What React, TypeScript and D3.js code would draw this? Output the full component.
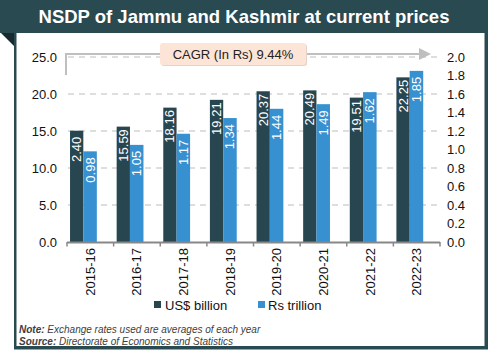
import React from "react";
import * as d3 from "d3";

const years = ["2015-16", "2016-17", "2017-18", "2018-19", "2019-20", "2020-21", "2021-22", "2022-23"];
const usdBillion = [15.04, 15.59, 18.16, 19.21, 20.37, 20.49, 19.51, 22.25];
const usdLabels = ["2.40", "15.59", "18.16", "19.21", "20.37", "20.49", "19.51", "22.25"];
const rsTrillion = [0.98, 1.05, 1.17, 1.34, 1.44, 1.49, 1.62, 1.85];
const rsLabels = ["0.98", "1.05", "1.17", "1.34", "1.44", "1.49", "1.62", "1.85"];
const leftTicks = [0, 5, 10, 15, 20, 25];
const rightTicks = [0, 0.2, 0.4, 0.6, 0.8, 1.0, 1.2, 1.4, 1.6, 1.8, 2.0];
const title = "NSDP of Jammu and Kashmir at current prices";
const cagrText = "CAGR (In Rs) 9.44%";

const DARK = "#284650";
const BLUE = "#3790d0";
const FONT = "Liberation Sans, Arial, sans-serif";

export default function App() {
  const W = 488, H = 350;
  const x = d3.scaleBand<string>().domain(years).range([67, 440]).padding(0);
  const yL = d3.scaleLinear().domain([0, 25]).range([242, 57]);
  const yR = d3.scaleLinear().domain([0, 2]).range([242, 57]);
  const bw = x.bandwidth();
  const dOff = bw * 0.065, dW = bw * 0.285;
  const bOff = bw * 0.35, bW = bw * 0.29;

  return (
    <svg width={W} height={H} style={{ position: "absolute", left: 0, top: 0, fontFamily: FONT }}>
      <rect x={0} y={0} width={W} height={H} fill="#fff" />
      {/* frame */}
      <rect x={0} y={0} width={W} height={33} fill="#2a4a52" />
      <polygon points="1,33 16,33 16,48" fill="#182a30" />
      <rect x={14} y={33} width={2.5} height={316} fill="#2a4a52" />
      <rect x={484.5} y={33} width={3.5} height={316} fill="#2a4a52" />
      <rect x={14} y={346} width={474} height={3.5} fill="#2a4a52" />
      <text x={244} y={23} textAnchor="middle" fill="#fff" fontWeight="bold" fontSize={18.5}>{title}</text>

      {/* gridlines */}
      {leftTicks.filter(t => t > 0).map(t => (
        <line key={t} x1={68} x2={440} y1={yL(t)} y2={yL(t)} stroke="#d4d4d4" strokeWidth={1.5} strokeDasharray="6,5" />
      ))}

      {/* left axis labels */}
      {leftTicks.map(t => (
        <text key={t} x={57} y={yL(t)} textAnchor="end" dominantBaseline="central" fontSize={13} fill="#111">{d3.format(".1f")(t)}</text>
      ))}
      {/* right axis labels */}
      {rightTicks.map(t => (
        <text key={t} x={447} y={yR(t)} textAnchor="start" dominantBaseline="central" fontSize={13} fill="#111">{d3.format(".1f")(t)}</text>
      ))}

      {/* bars */}
      {years.map((c, i) => {
        const x0 = x(c) as number;
        const yd = yL(usdBillion[i]);
        const yb = yR(rsTrillion[i]);
        return (
          <g key={c}>
            <rect x={x0 + dOff} y={yd} width={dW} height={242 - yd} fill={DARK} />
            <rect x={x0 + bOff} y={yb} width={bW} height={242 - yb} fill={BLUE} />
            <text transform={`translate(${x0 + dOff + dW / 2},${yd + (i === 0 ? 6 : 2.5)}) rotate(-90)`} textAnchor="end" dominantBaseline="central" fontSize={13} fill="#fff">{usdLabels[i]}</text>
            <text transform={`translate(${x0 + bOff + bW / 2},${yb + 6}) rotate(-90)`} textAnchor="end" dominantBaseline="central" fontSize={13} fill="#fff">{rsLabels[i]}</text>
          </g>
        );
      })}

      {/* x axis */}
      <line x1={67} x2={440} y1={242.5} y2={242.5} stroke="#888" strokeWidth={2} />
      {[...years.map(c => x(c) as number), 440].map((t, i) => (
        <line key={i} x1={t} x2={t} y1={242} y2={246.5} stroke="#888" strokeWidth={1.5} />
      ))}
      {years.map(c => (
        <text key={c} transform={`translate(${(x(c) as number) + bw / 2},248) rotate(-90)`} textAnchor="end" dominantBaseline="central" fontSize={13} fill="#111">{c}</text>
      ))}

      {/* CAGR annotation */}
      <path d="M66,75 V54 H422" fill="none" stroke="#bfbfbf" strokeWidth={2} />
      <polygon points="419,48 431,54 419,60" fill="#bfbfbf" />
      <rect x={161} y={44} width={146} height={22} rx={3} fill="#e6d2c6" />
      <rect x={160} y={43} width={146} height={22} rx={3} fill="#fce4d6" />
      <text x={233} y={54.5} textAnchor="middle" dominantBaseline="central" fontSize={13} fill="#222">{cagrText}</text>

      {/* legend */}
      <rect x={154} y={301} width={7} height={7} fill={DARK} />
      <text x={165} y={305} dominantBaseline="central" fontSize={13} fill="#111">US$ billion</text>
      <rect x={258} y={301} width={7} height={7} fill={BLUE} />
      <text x={268} y={305} dominantBaseline="central" fontSize={13} fill="#111">Rs trillion</text>

      {/* notes */}
      <text x={19} y={333} fontSize={10} fontStyle="italic" fill="#404040">
        <tspan fontWeight="bold">Note:</tspan> Exchange rates used are averages of each year
      </text>
      <text x={19} y={345} fontSize={10} fontStyle="italic" fill="#404040">
        <tspan fontWeight="bold">Source:</tspan> Directorate of Economics and Statistics
      </text>
    </svg>
  );
}
